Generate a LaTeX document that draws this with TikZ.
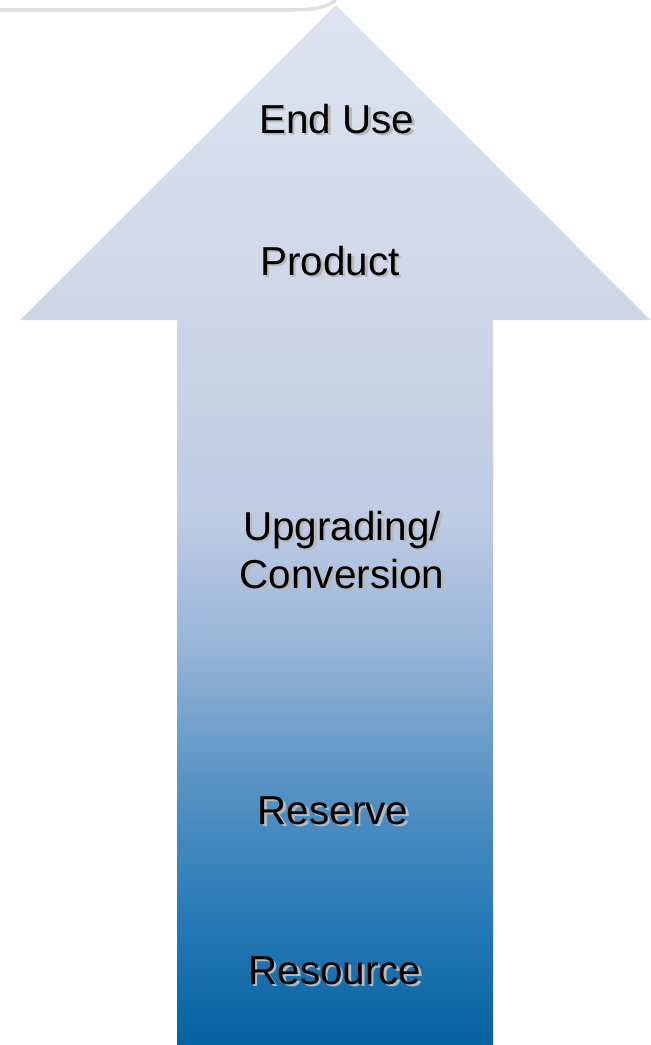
\documentclass[tikz,border=0pt]{standalone}
\usepackage{fontspec}
\setmainfont{Liberation Sans}
\usepackage{xcolor}
\usepackage{tikz}
\usetikzlibrary{positioning,calc}

\definecolor{stepA}{RGB}{4,99,160}
\definecolor{stepB}{RGB}{45,125,185}
\definecolor{stepC}{RGB}{88,147,196}
\definecolor{stepD}{RGB}{150,180,215}
\definecolor{stepE}{RGB}{190,203,228}
\definecolor{stepF}{RGB}{205,214,232}
\definecolor{stepG}{RGB}{222,228,240}

\pgfdeclareverticalshading{chainshade}{100bp}{%
  color(0bp)=(stepA); color(25bp)=(stepA); color(32bp)=(stepB);
  color(37.7bp)=(stepC); color(44bp)=(stepD); color(50.2bp)=(stepE);
  color(59.9bp)=(stepF); color(75bp)=(stepG); color(100bp)=(stepG)}

\newcommand\shadowtxt[1]{\leavevmode\rlap{\hspace{1.4pt}\raisebox{-1.4pt}{\color{black!28}#1}}#1}

\begin{document}
\begin{tikzpicture}[
  x=0.02cm, y=-0.02cm,
  stage/.style={align=center, inner sep=0pt, font=\fontsize{23}{27.5}\selectfont},
  bigarrow/.style={shading=chainshade, draw=none},
]
  \useasboundingbox (0,0) rectangle (650,1045);

  % --- faint rule at the top -----------------------------------------
  \draw[black!12, line width=2pt] (0,10) -- (290,10) .. controls (318,10) and (328,6) .. (336,0);

  % --- the arrow -----------------------------------------------------
  \path[bigarrow] (336,5) -- (650,320) -- (493,320) -- (493,1045)
    -- (177,1045) -- (177,320) -- (20,320) -- cycle;

  % --- stages, bottom to top -----------------------------------------
  \node[stage] (res) at (335,972) {\shadowtxt{Resource}};
  \node[stage] (rsv) at (333,812) {\shadowtxt{Reserve}};
  \node[stage] (upg) at (342,551) {\shadowtxt{Upgrading/}\\\shadowtxt{Conversion}};
  \node[stage] (prd) at (330,262) {\shadowtxt{Product}};
  \node[stage] (end) at (337,120) {\shadowtxt{End Use}};
\end{tikzpicture}
\end{document}
